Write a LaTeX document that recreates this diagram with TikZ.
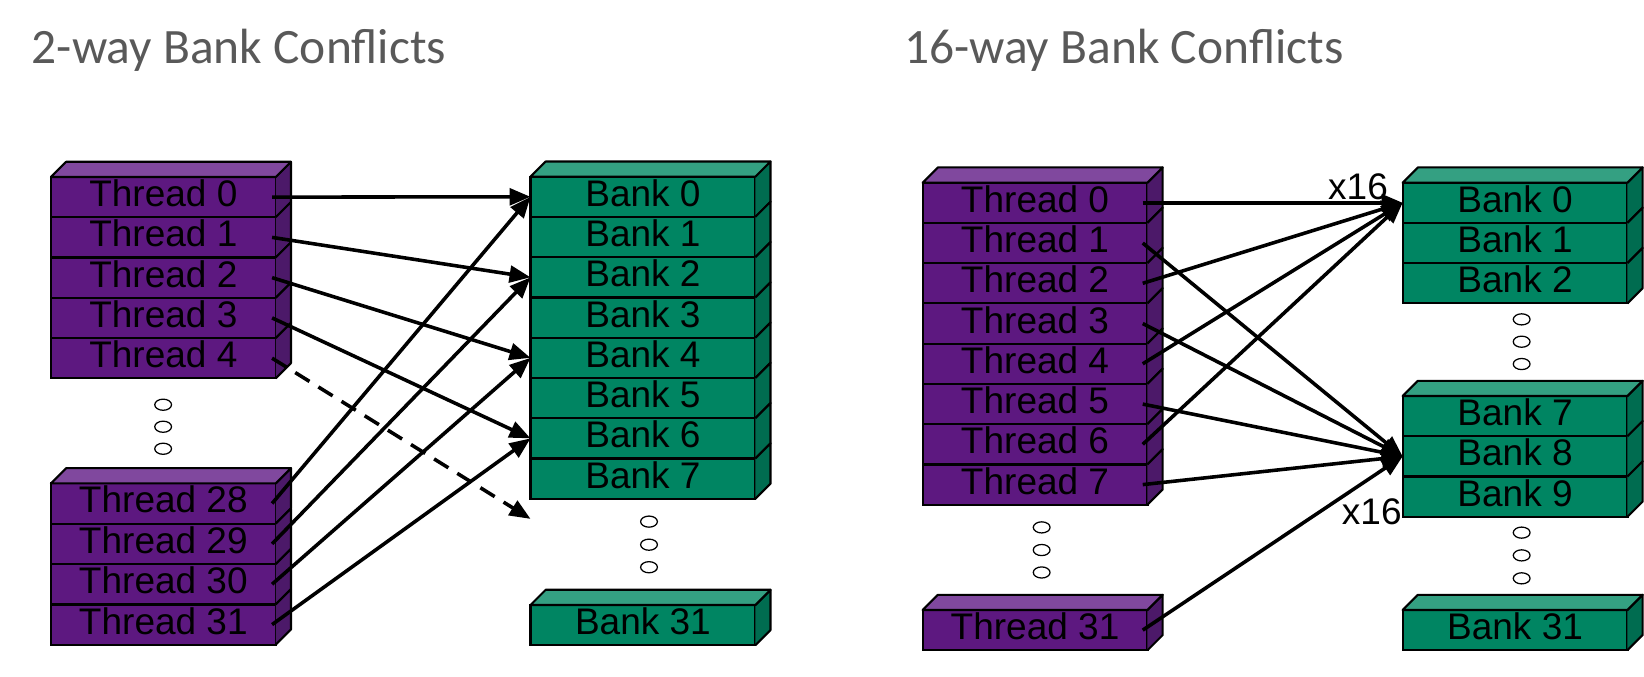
\documentclass[tikz,border=0pt]{standalone}
\usepackage{fontspec}
\newfontfamily\arialfont{Liberation Sans}
\newfontfamily\titlefont{Carlito}
\usetikzlibrary{arrows.meta}
\definecolor{thfront}{RGB}{93,24,128}
\definecolor{thtop}{RGB}{128,72,158}
\definecolor{thside}{RGB}{76,25,105}
\definecolor{bkfront}{RGB}{0,133,98}
\definecolor{bktop}{RGB}{52,160,130}
\definecolor{bkside}{RGB}{0,108,80}
\definecolor{titlegray}{RGB}{89,89,89}
\tikzset{
  rowbase/.style={draw=black, line width=2pt, minimum width=214.4pt, minimum height=38.4pt,
    inner sep=0pt, outer sep=0pt, text height=25pt, text depth=7pt,
    font=\arialfont\fontsize{35.3}{40}\selectfont, anchor=north west},
  thbox/.style={rowbase, fill=thfront},
  bkbox/.style={rowbase, fill=bkfront},
  face/.style={draw=black, line width=2pt, line join=round},
  arr/.style={line width=3.4pt, -{Triangle[length=20pt,width=16pt]}},
  lbl/.style={font=\arialfont\fontsize{35.3}{40}\selectfont, inner sep=0pt},
  ttl/.style={font=\titlefont\fontsize{47.2}{52}\selectfont, text=titlegray, inner sep=0pt, anchor=base west},
  dot/.style={draw=black, line width=1.2pt, fill=white}
}
% #1 name, #2 x, #3 y, #4 text, #5 box style, #6 side colour
\newcommand{\rowbox}[6]{%
  \node[#5] (#1) at (#2,#3) {#4};
  \fill[#6] (#1.north east) -- ++(14.5pt,14.5pt) -- ++(0pt,-38.4pt) -- (#1.south east) -- cycle;
  \draw[face] (#1.north east) -- ++(14.5pt,14.5pt) -- ++(0pt,-38.4pt) -- (#1.south east);
}
% #1 name of first row, #2 top colour
\newcommand{\rowtop}[2]{%
  \filldraw[face, fill=#2] (#1.north west) -- ++(14.5pt,14.5pt) -- ++(214.4pt,0pt) -- (#1.north east) -- cycle;
}
\begin{document}
\begin{tikzpicture}[x=1pt,y=-1pt]
\useasboundingbox (0,0) rectangle (1568,645.7);

% titles
\node[ttl] (title1) at (30.2,60.4) {2-way Bank Conflicts};
\node[ttl] (title2) at (862,60.4) {16-way Bank Conflicts};

% ---------- left: threads 0-4 ----------
\foreach \i in {0,...,4} {
  \pgfmathsetmacro{\yy}{168.8+38.4*\i}
  \rowbox{t\i}{48.6}{\yy}{Thread \i}{thbox}{thside}
}
\rowtop{t0}{thtop}
% threads 28-31
\foreach \i [count=\k from 0] in {28,...,31} {
  \pgfmathsetmacro{\yy}{461+38.5*\k}
  \rowbox{t\i}{48.6}{\yy}{Thread \i}{thbox}{thside}
}
\rowtop{t28}{thtop}
% banks 0-7
\foreach \i in {0,...,7} {
  \pgfmathsetmacro{\yy}{168.5+38.4*\i}
  \rowbox{b\i}{506}{\yy}{Bank \i}{bkbox}{bkside}
}
\rowtop{b0}{bktop}
\rowbox{b31}{506}{577}{Bank 31}{bkbox}{bkside}
\rowtop{b31}{bktop}
\coordinate (b8) at ([yshift=-38.4pt]b7.west);

% dots left
\foreach \yy in {386,407,428} \draw[dot] (155.6,\yy) ellipse (8pt and 5.3pt);
\foreach \yy in {497.5,519.5,541} \draw[dot] (619,\yy) ellipse (8pt and 5.3pt);

% arrows left
\draw[arr] ([xshift=-3.5pt]t0.east) -- (b0.west);
\draw[arr] ([xshift=-3.5pt]t1.east) -- (b2.west);
\draw[arr] ([xshift=-3.5pt]t2.east) -- (b4.west);
\draw[arr] ([xshift=-3.5pt]t3.east) -- (b6.west);
\draw[arr, dash pattern=on 16pt off 10pt] ([xshift=-3.5pt]t4.east) -- (b8);
\draw[arr] ([xshift=-3.5pt]t28.east) -- (b0.west);
\draw[arr] ([xshift=-3.5pt]t29.east) -- (b2.west);
\draw[arr] ([xshift=-3.5pt]t30.east) -- (b4.west);
\draw[arr] ([xshift=-3.5pt]t31.east) -- (b6.west);

% ---------- right: threads 0-7 ----------
\foreach \i in {0,...,7} {
  \pgfmathsetmacro{\yy}{174.2+38.4*\i}
  \rowbox{u\i}{880}{\yy}{Thread \i}{thbox}{thside}
}
\rowtop{u0}{thtop}
\rowbox{u31}{880}{581.8}{Thread 31}{thbox}{thside}
\rowtop{u31}{thtop}
% banks 0-2
\foreach \i in {0,...,2} {
  \pgfmathsetmacro{\yy}{174.2+38.4*\i}
  \rowbox{c\i}{1337.8}{\yy}{Bank \i}{bkbox}{bkside}
}
\rowtop{c0}{bktop}
% banks 7-9
\foreach \i [count=\k from 0] in {7,...,9} {
  \pgfmathsetmacro{\yy}{377.7+38.4*\k}
  \rowbox{c\i}{1337.8}{\yy}{Bank \i}{bkbox}{bkside}
}
\rowtop{c7}{bktop}
\rowbox{c31}{1337.8}{581.8}{Bank 31}{bkbox}{bkside}
\rowtop{c31}{bktop}

% dots right
\foreach \yy in {503,524.6,546} \draw[dot] (993.5,\yy) ellipse (8pt and 5.3pt);
\foreach \yy in {304.6,325.9,347.2} \draw[dot] (1451.3,\yy) ellipse (8pt and 5.3pt);
\foreach \yy in {508,529.7,551.6} \draw[dot] (1451.3,\yy) ellipse (8pt and 5.3pt);

% arrows right
\foreach \i in {0,2,4,6} \draw[arr] ([xshift=-4.5pt]u\i.east) -- (c0.west);
\foreach \i in {1,3,5,7,31} \draw[arr] ([xshift=-4.5pt]u\i.east) -- (c8.west);

% labels
\node[lbl, anchor=base west] (x16a) at (1266.6,190.7) {x16};
\node[lbl, anchor=base east] (x16b) at (1337,500.7) {x16};
\end{tikzpicture}
\end{document}
